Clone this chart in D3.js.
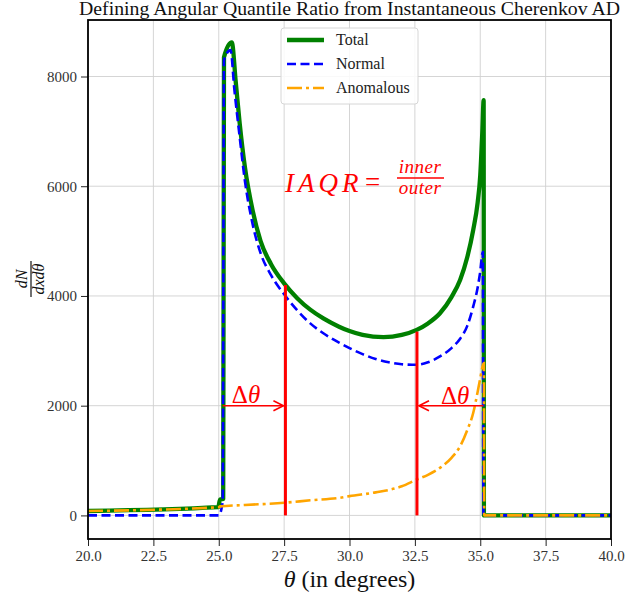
<!DOCTYPE html>
<html><head><meta charset="utf-8">
<script src="https://cdn.jsdelivr.net/npm/d3@7"></script>
<style>
html,body{margin:0;padding:0;background:#fff;}
text{font-family:"Liberation Serif","DejaVu Serif",serif;}
</style></head>
<body><svg id="c" width="626" height="598"></svg>
<script>
// ---- data ----
const totalTheta = [20,24.98,25.05,25.17,25.2,25.5,25.65,25.8,26.0,26.3,26.6,27.0,27.5,28.0,28.5,29.0,29.6,30.0,30.5,31.3,32.0,32.57,33.0,33.46,33.9,34.23,34.5,34.73,34.9,35.0,35.08,35.13,35.14,40];
const totalVals  = [80,150,290,300,8350,8620,7900,7150,6350,5550,5000,4580,4230,3960,3750,3590,3440,3360,3290,3248,3290,3382,3500,3685,3980,4290,4700,5200,5700,6200,7000,7570,0,0];

const normalTheta = [20,25.0,25.15,25.2,25.45,25.6,25.8,26.0,26.3,26.6,27.0,27.5,28.0,28.5,29.0,29.6,30.0,30.5,31.0,31.5,32.0,32.57,33.0,33.46,33.9,34.23,34.5,34.73,34.9,34.99,35.1,35.12,40];
const normalVals  = [0,0,250,8300,8480,7750,6900,6100,5300,4780,4380,4030,3740,3500,3320,3150,3050,2940,2850,2790,2755,2745,2790,2897,3050,3220,3450,3806,4150,4412,4800,0,0];

const anomTheta = [20,25.0,25.05,26.0,27.5,28.5,29.64,30.0,31.0,32.0,32.57,33.0,33.46,33.9,34.23,34.5,34.73,34.9,34.99,35.14,35.15,40];
const anomVals  = [80,150,164,190,230,275,321,351,420,530,654,740,867,1050,1260,1550,1867,2250,2473,2776,0,0];

const xTicks = [20,22.5,25,27.5,30,32.5,35,37.5,40];
const yTicks = [0,2000,4000,6000,8000];
const seriesNames = ["Total","Normal","Anomalous"];
const innerEdges = [27.55, 32.58];      // quantile lines
const innerTops = [4200, 3350];
const ringEdges = [25.15, 35.12];       // arrow starts
const arrowLevel = 2000;

// ---- layout ----
const L=88,R=611,T=20,B=539;
const svg=d3.select("#c");
const x=d3.scaleLinear().domain([20,40]).range([L,R]);
const y=d3.scaleLinear().domain([-430,9030]).range([B,T]);

// grid
const g=svg.append("g");
g.selectAll(".gx").data(xTicks).join("line").attr("x1",d=>x(d)).attr("x2",d=>x(d)).attr("y1",T).attr("y2",B).attr("stroke","#d0d0d0").attr("stroke-width",0.9);
g.selectAll(".gy").data(yTicks).join("line").attr("x1",L).attr("x2",R).attr("y1",d=>y(d)).attr("y2",d=>y(d)).attr("stroke","#d0d0d0").attr("stroke-width",0.9);

// axes
const fmtX=d3.format(".1f");
const ax=svg.append("g").attr("transform",`translate(0,${B})`).call(d3.axisBottom(x).tickValues(xTicks).tickFormat(fmtX).tickSize(7).tickPadding(4));
const ay=svg.append("g").attr("transform",`translate(${L},0)`).call(d3.axisLeft(y).tickValues(yTicks).tickFormat(d3.format("d")).tickSize(7).tickPadding(4));
[ax,ay].forEach(a=>{a.select(".domain").remove();a.selectAll("line").attr("stroke","#222").attr("stroke-width",1);a.selectAll("text").attr("font-size",15).attr("fill","#333").attr("font-family","Liberation Serif, serif");});

// lines
svg.append("clipPath").attr("id","cp").append("rect").attr("x",L).attr("y",T).attr("width",R-L).attr("height",B-T);
const line=d3.line().x(d=>x(d[0])).y(d=>y(d[1])).curve(d3.curveMonotoneX);
const plot=svg.append("g").attr("clip-path","url(#cp)");
const tot=totalTheta.map((t,i)=>[t,totalVals[i]]);
const nor=normalTheta.map((t,i)=>[t,normalVals[i]]);
const ano=anomTheta.map((t,i)=>[t,anomVals[i]]);
plot.append("path").attr("d",line(tot)).attr("fill","none").attr("stroke","#008000").attr("stroke-width",4.3).attr("stroke-linejoin","round");
plot.append("path").attr("d",line(nor)).attr("fill","none").attr("stroke","#0000ff").attr("stroke-width",2.6).attr("stroke-dasharray","9,4.5");
plot.append("path").attr("d",line(ano)).attr("fill","none").attr("stroke","#ffa500").attr("stroke-width",2.6).attr("stroke-dasharray","15,4,3,4");

// red quantile lines
innerEdges.forEach((e,i)=>{
  plot.append("line").attr("x1",x(e)).attr("x2",x(e)).attr("y1",y(0)).attr("y2",y(innerTops[i])).attr("stroke","#ff0000").attr("stroke-width",3);
});
// arrows
function arrow(x0,x1,yy){
  plot.append("line").attr("x1",x0).attr("x2",x1).attr("y1",yy).attr("y2",yy).attr("stroke","#ff0000").attr("stroke-width",1.6);
  const dir=Math.sign(x1-x0);
  plot.append("path").attr("d",`M${x1-dir*10},${yy-5} L${x1},${yy} L${x1-dir*10},${yy+5}`).attr("fill","none").attr("stroke","#ff0000").attr("stroke-width",1.6);
}
arrow(x(ringEdges[0]),x(innerEdges[0])-2,y(arrowLevel));
arrow(x(ringEdges[1]),x(innerEdges[1])+2,y(arrowLevel));
const red="#ff0000";
svg.append("text").attr("x",x(25.5)).attr("y",y(arrowLevel)-3).attr("font-size",25).attr("fill",red).html('Δ<tspan font-style="italic">θ</tspan>');
svg.append("text").attr("x",x(33.5)).attr("y",y(arrowLevel)-2).attr("font-size",25).attr("fill",red).html('Δ<tspan font-style="italic">θ</tspan>');
// IAQR
svg.append("text").attr("x",285).attr("y",192).attr("font-size",27).attr("fill",red).attr("font-style","italic").attr("letter-spacing",4).text("IAQR");
svg.append("text").attr("x",365).attr("y",191).attr("font-size",27).attr("fill",red).text("=");
svg.append("text").attr("x",420).attr("y",173).attr("font-size",19).attr("fill",red).attr("font-style","italic").attr("text-anchor","middle").attr("letter-spacing",0.5).text("inner");
svg.append("line").attr("x1",397).attr("x2",444).attr("y1",178).attr("y2",178).attr("stroke",red).attr("stroke-width",1.3);
svg.append("text").attr("x",420).attr("y",194).attr("font-size",19).attr("fill",red).attr("font-style","italic").attr("text-anchor","middle").attr("letter-spacing",0.5).text("outer");

// frame
svg.append("rect").attr("x",L).attr("y",T).attr("width",R-L).attr("height",B-T).attr("fill","none").attr("stroke","#000").attr("stroke-width",1.8);

// legend
const lg=svg.append("g");
lg.append("rect").attr("x",281).attr("y",28).attr("width",137).attr("height",76).attr("rx",3).attr("fill","rgba(255,255,255,0.85)").attr("stroke","#d6d6d6").attr("stroke-width",1);
const styles=[{c:"#008000",w:4.3,d:null},{c:"#0000ff",w:2.6,d:"9,4.5"},{c:"#ffa500",w:2.6,d:"15,4,3,4"}];
seriesNames.forEach((n,i)=>{
  const yy=40+i*24;
  const l=lg.append("line").attr("x1",287).attr("x2",324).attr("y1",yy).attr("y2",yy).attr("stroke",styles[i].c).attr("stroke-width",styles[i].w);
  if(styles[i].d) l.attr("stroke-dasharray",styles[i].d);
  lg.append("text").attr("x",336).attr("y",yy+5).attr("font-size",16).attr("fill","#222").text(n);
});

// title
svg.append("text").attr("x",(L+R)/2).attr("y",15).attr("text-anchor","middle").attr("font-size",18).attr("fill","#111").attr("textLength",541).attr("lengthAdjust","spacingAndGlyphs").text("Defining Angular Quantile Ratio from Instantaneous Cherenkov AD");
// x label
svg.append("text").attr("x",(L+R)/2).attr("y",587).attr("text-anchor","middle").attr("font-size",24).attr("fill","#111").html('<tspan font-style="italic">θ</tspan> (in degrees)');
// y label (fraction, rotated)
const yl=svg.append("g").attr("transform","translate(31,279) rotate(-90)");
yl.append("text").attr("x",0).attr("y",-4).attr("text-anchor","middle").attr("font-size",16).attr("font-style","italic").attr("fill","#111").text("dN");
yl.append("line").attr("x1",-18).attr("x2",18).attr("y1",0).attr("y2",0).attr("stroke","#111").attr("stroke-width",1.2);
yl.append("text").attr("x",0).attr("y",13).attr("text-anchor","middle").attr("font-size",16).attr("font-style","italic").attr("fill","#111").text("dxdθ");
</script></body></html>
